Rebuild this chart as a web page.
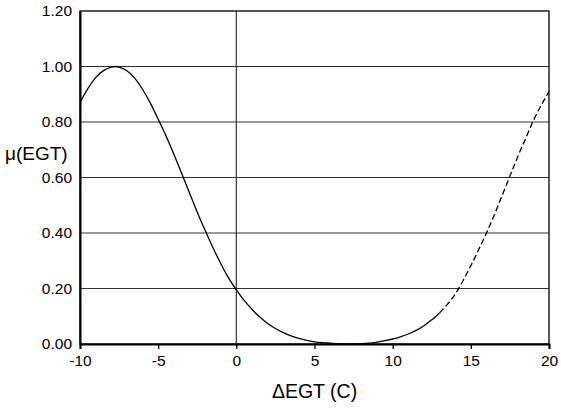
<!DOCTYPE html>
<html>
<head>
<meta charset="utf-8">
<script src="https://cdn.jsdelivr.net/npm/d3@7"></script>
<style>
  body { margin: 0; background: #fff; }
  svg text { font-family: "Liberation Sans", Arial, sans-serif; fill: #000; }
</style>
</head>
<body>
<div class="chart-section"></div>
<script>
const width = 561,
  height = 409;
const marginLeft = 80,
  marginTop = 11,
  marginRight = 12,
  marginBottom = 65;

// membership curve
const deltaEgt = [
  -10, -9.5, -9, -8.5, -8, -7.75, -7.5, -7, -6.5, -6, -5.5, -5, -4.5, -4, -3.5,
  -3, -2.5, -2, -1.5, -1, -0.5, 0, 0.5, 1, 1.5, 2, 2.5, 3, 3.5, 4, 4.5, 5, 5.5,
  6, 6.5, 7, 7.5, 8, 8.5, 9, 9.5, 10, 10.5, 11, 11.5, 12, 12.5, 13, 13.5, 14,
  14.5, 15, 15.5, 16, 16.5, 17, 17.5, 18, 18.5, 19, 19.5, 20,
];
const muEgt = [
  0.87, 0.92, 0.96, 0.985, 0.998, 1.0, 0.998, 0.985, 0.958, 0.918, 0.868, 0.81,
  0.75, 0.685, 0.615, 0.545, 0.475, 0.41, 0.348, 0.29, 0.238, 0.195, 0.157,
  0.125, 0.097, 0.074, 0.056, 0.041, 0.029, 0.02, 0.013, 0.008, 0.005, 0.003,
  0.001, 0.0, 0.0, 0.001, 0.003, 0.007, 0.012, 0.018, 0.026, 0.036, 0.049,
  0.066, 0.087, 0.112, 0.143, 0.18, 0.228, 0.282, 0.34, 0.4, 0.465, 0.535,
  0.605, 0.675, 0.74, 0.805, 0.86, 0.91,
];
const dashFrom = 13; // curve is dashed past this point

const xTicks = [-10, -5, 0, 5, 10, 15, 20];
const yTicks = [0, 0.2, 0.4, 0.6, 0.8, 1.0, 1.2];
const xTitle = "\u0394EGT (C)";
const yTitle = "\u03bc(EGT)";

const points = deltaEgt.map((x, i) => ({ x, y: muEgt[i] }));

const xScale = d3
  .scaleLinear()
  .domain([-10, 20])
  .range([marginLeft, width - marginRight]);
const yScale = d3
  .scaleLinear()
  .domain([0, 1.2])
  .range([height - marginBottom, marginTop]);

const svg = d3
  .select(".chart-section")
  .append("svg")
  .attr("width", width)
  .attr("height", height);

// horizontal grid
svg
  .append("g")
  .selectAll("line")
  .data(yTicks.slice(1, -1))
  .enter()
  .append("line")
  .attr("x1", marginLeft)
  .attr("x2", width - marginRight)
  .attr("y1", (d) => yScale(d))
  .attr("y2", (d) => yScale(d))
  .attr("stroke", "#333")
  .attr("stroke-width", 1.2);

// vertical line at zero
svg
  .append("line")
  .attr("x1", xScale(0))
  .attr("x2", xScale(0))
  .attr("y1", marginTop)
  .attr("y2", height - marginBottom)
  .attr("stroke", "#333")
  .attr("stroke-width", 1.2);

// frame
svg
  .append("rect")
  .attr("x", marginLeft)
  .attr("y", marginTop)
  .attr("width", width - marginLeft - marginRight)
  .attr("height", height - marginTop - marginBottom)
  .attr("fill", "none")
  .attr("stroke", "#000")
  .attr("stroke-width", 1.3);

// plain hyphen for negatives, like the original
const xAxis = d3
  .axisBottom(xScale)
  .tickValues(xTicks)
  .tickSize(5)
  .tickPadding(6)
  .tickFormat((d) => String(d));
const yAxis = d3
  .axisLeft(yScale)
  .tickValues(yTicks)
  .tickSize(0)
  .tickPadding(8)
  .tickFormat((d) => d.toFixed(2));

const gx = svg
  .append("g")
  .attr("transform", `translate(0,${height - marginBottom})`)
  .call(xAxis);
gx.select(".domain").attr("stroke-width", 2);
gx.selectAll(".tick line").attr("stroke-width", 1.3);
gx.selectAll("text").attr("font-size", 15.5);

const gy = svg
  .append("g")
  .attr("transform", `translate(${marginLeft},0)`)
  .call(yAxis);
gy.select(".domain").attr("stroke-width", 2);
gy.selectAll("text").attr("font-size", 15.5);

svg.selectAll(".tick text").attr("font-family", "Liberation Sans, Arial, sans-serif");

// curve
const line = d3
  .line()
  .x((d) => xScale(d.x))
  .y((d) => yScale(d.y))
  .curve(d3.curveMonotoneX);

svg
  .append("path")
  .datum(points.filter((d) => d.x <= dashFrom))
  .attr("d", line)
  .attr("fill", "none")
  .attr("stroke", "#000")
  .attr("stroke-width", 1.3);

svg
  .append("path")
  .datum(points.filter((d) => d.x >= dashFrom))
  .attr("d", line)
  .attr("fill", "none")
  .attr("stroke", "#000")
  .attr("stroke-width", 1.3)
  .attr("stroke-dasharray", "6,3");

// axis titles
svg
  .append("text")
  .text(xTitle)
  .attr("x", (marginLeft + width - marginRight) / 2)
  .attr("y", 398)
  .attr("text-anchor", "middle")
  .attr("font-size", 19.5);

svg
  .append("text")
  .text(yTitle)
  .attr("x", 5)
  .attr("y", 160)
  .attr("font-size", 19);
</script>
</body>
</html>
